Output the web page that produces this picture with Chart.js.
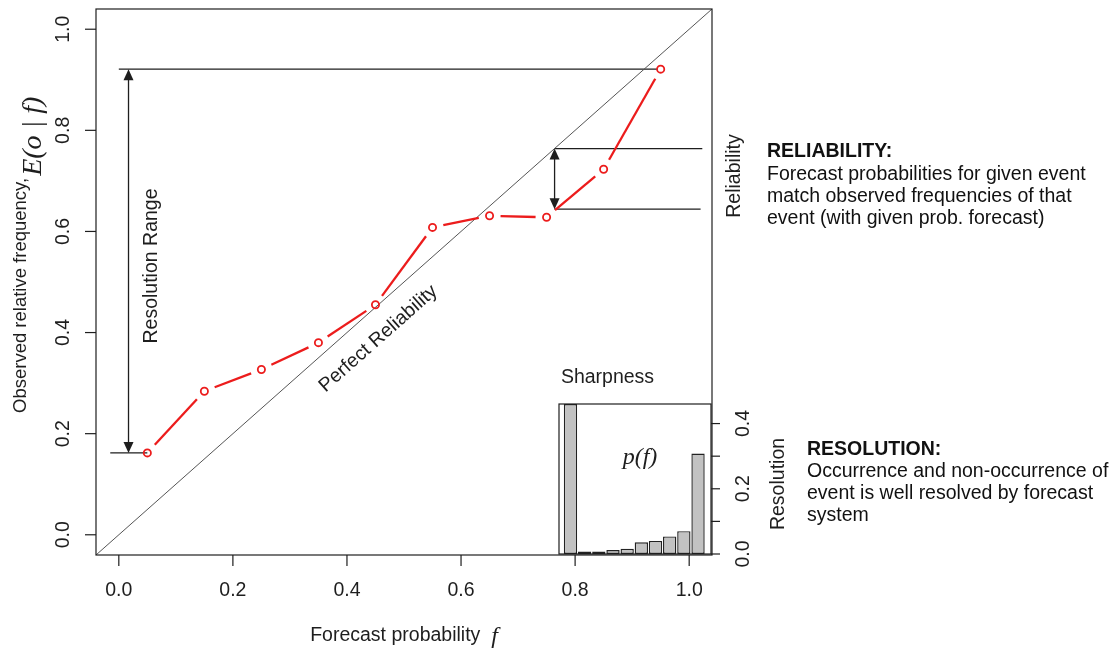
<!DOCTYPE html>
<html>
<head>
<meta charset="utf-8">
<title>Reliability diagram</title>
<script src="https://cdn.jsdelivr.net/npm/chart.js@4.4.1/dist/chart.umd.min.js"></script>
<style>
  body { margin: 0; background: #fff; }
  #wrap { position: relative; width: 1120px; height: 651px; overflow: hidden; }
  canvas { position: absolute; }
  #main { left: 0; top: 0; }
  #sharp { left: 520px; top: 360px; }
  .note { position: absolute; font-family: Arial, "Liberation Sans", sans-serif; font-size: 19.5px;
          line-height: 22px; color: #111; white-space: nowrap; }
  .note.head { font-weight: bold; }
</style>
</head>
<body>
<div id="wrap">
  <canvas id="main" width="1120" height="651"></canvas>
  <canvas id="sharp" width="260" height="215"></canvas>
  <div class="note head" style="left:767px;top:139px">RELIABILITY:</div>
  <div class="note" style="left:767px;top:162px">Forecast probabilities for given event<br>match observed frequencies of that<br>event (with given prob. forecast)</div>
  <div class="note head" style="left:807px;top:437px">RESOLUTION:</div>
  <div class="note" style="left:807px;top:459px">Occurrence and non-occurrence of<br>event is well resolved by forecast<br>system</div>
</div>
<script>
// forecast bin centres and observed relative frequency in each bin
var fcst    = [0.05, 0.15, 0.25, 0.35, 0.45, 0.55, 0.65, 0.75, 0.85, 0.95];
var obsFreq = [0.162, 0.284, 0.327, 0.380, 0.455, 0.608, 0.631, 0.628, 0.723, 0.921];

// share of forecasts falling in each bin (sharpness histogram)
var sharpFreq = [0.46, 0.008, 0.008, 0.012, 0.016, 0.036, 0.040, 0.054, 0.070, 0.308];

// reliability example: forecast value and the frequency observed for it
var relMark = [0.764, 0.644];

var xTicks = [0, 0.2, 0.4, 0.6, 0.8, 1.0];
var yTicks = [0, 0.2, 0.4, 0.6, 0.8, 1.0];
var sharpTicks  = [0, 0.1, 0.2, 0.3, 0.4];
var sharpLabels = [0, 0.2, 0.4];

var SANS = 'Arial, "Liberation Sans", sans-serif';
var SERIF = '"Liberation Serif", "DejaVu Serif", serif';
var INK = '#1e1e1e';
var RED = '#ec1c1c';
var GAP = 11; // px left blank around each point (R type="b")

function pts(xs, ys) {
  return xs.map(function(x, i) { return { x: x, y: ys[i] }; });
}

function rotText(ctx, txt, x, y, font, align, baseline) {
  ctx.save();
  ctx.translate(x, y);
  ctx.rotate(-Math.PI / 2);
  ctx.font = font;
  ctx.textAlign = align || 'center';
  ctx.textBaseline = baseline || 'middle';
  ctx.fillText(txt, 0, 0);
  ctx.restore();
}

function arrowHead(ctx, x, y, dir) {
  // dir = -1 points up, +1 points down; tip sits at (x, y)
  ctx.beginPath();
  ctx.moveTo(x, y);
  ctx.lineTo(x - 5, y - dir * 11);
  ctx.lineTo(x + 5, y - dir * 11);
  ctx.closePath();
  ctx.fill();
}

function vArrow(ctx, x, yTop, yBot) {
  ctx.beginPath();
  ctx.moveTo(x, yTop + 4);
  ctx.lineTo(x, yBot - 4);
  ctx.stroke();
  arrowHead(ctx, x, yTop, -1);
  arrowHead(ctx, x, yBot, 1);
}

function segLen(c) {
  return Math.hypot(c.p1.x - c.p0.x, c.p1.y - c.p0.y);
}

///////////////////////////////////////////////////////////////////////////
// axes, box and annotations of the main panel
///////////////////////////////////////////////////////////////////////////
var rFrame = {
  id: 'rFrame',
  afterDraw: function(chart) {
    var ctx = chart.ctx, a = chart.chartArea;
    var xs = chart.scales.x, ys = chart.scales.y;
    var font = '19.5px ' + SANS;
    ctx.save();
    ctx.strokeStyle = INK;
    ctx.fillStyle = INK;
    ctx.lineWidth = 1.2;
    ctx.strokeRect(a.left, a.top, a.right - a.left, a.bottom - a.top);

    ctx.font = font;
    ctx.textAlign = 'center';
    ctx.textBaseline = 'middle';
    xTicks.forEach(function(v) {
      var px = xs.getPixelForValue(v);
      ctx.beginPath(); ctx.moveTo(px, a.bottom); ctx.lineTo(px, a.bottom + 11); ctx.stroke();
      ctx.fillText(v.toFixed(1), px, a.bottom + 36);
    });
    yTicks.forEach(function(v) {
      var py = ys.getPixelForValue(v);
      ctx.beginPath(); ctx.moveTo(a.left, py); ctx.lineTo(a.left - 11, py); ctx.stroke();
      rotText(ctx, v.toFixed(1), a.left - 32, py, font);
    });

    // x title: text + italic f
    ctx.textBaseline = 'alphabetic';
    ctx.textAlign = 'left';
    ctx.font = font;
    var t1 = 'Forecast probability  ';
    var w1 = ctx.measureText(t1).width;
    ctx.font = 'italic 24px ' + SERIF;
    var w2 = ctx.measureText('f').width;
    var x0 = (a.left + a.right) / 2 - (w1 + w2) / 2;
    ctx.font = font;
    ctx.fillText(t1, x0, 641);
    ctx.font = 'italic 24px ' + SERIF;
    ctx.fillText('f', x0 + w1, 643);

    // y title
    var yFont = '18.5px ' + SANS;
    ctx.font = yFont;
    var t2 = 'Observed relative frequency,';
    var w3 = ctx.measureText(t2).width;
    rotText(ctx, t2, 26, 413, yFont, 'left', 'alphabetic');
    rotText(ctx, 'E(o | f)', 41, 413 - w3 - 2, 'italic 28px ' + SERIF, 'left', 'alphabetic');

    // resolution range arrow
    var top = Math.max.apply(null, obsFreq);
    var ax = xs.getPixelForValue(0.017);
    ctx.lineWidth = 1.3;
    vArrow(ctx, ax, ys.getPixelForValue(top), ys.getPixelForValue(obsFreq[0]));
    rotText(ctx, 'Resolution Range', 152, 266, font);

    // reliability arrow
    vArrow(ctx, xs.getPixelForValue(relMark[0]), ys.getPixelForValue(relMark[0]),
           ys.getPixelForValue(relMark[1]));
    rotText(ctx, 'Reliability', 735, 176, font);
    rotText(ctx, 'Resolution', 779, 484, font);

    // label along the diagonal
    var ang = Math.atan2(ys.getPixelForValue(0) - ys.getPixelForValue(1),
                         xs.getPixelForValue(1) - xs.getPixelForValue(0));
    ctx.save();
    ctx.translate(xs.getPixelForValue(0.455), ys.getPixelForValue(0.455) + 34);
    ctx.rotate(-ang);
    ctx.font = font;
    ctx.textAlign = 'center';
    ctx.textBaseline = 'middle';
    ctx.fillText('Perfect Reliability', 0, 0);
    ctx.restore();

    ctx.restore();
  }
};

///////////////////////////////////////////////////////////////////////////
// frame, right axis and titles of the sharpness inset
///////////////////////////////////////////////////////////////////////////
var sharpFrame = {
  id: 'sharpFrame',
  afterDraw: function(chart) {
    var ctx = chart.ctx, a = chart.chartArea, ys = chart.scales.y;
    var font = '19.5px ' + SANS;
    ctx.save();
    ctx.strokeStyle = INK;
    ctx.fillStyle = INK;
    ctx.lineWidth = 1.2;
    ctx.strokeRect(a.left, a.top, a.right - a.left, a.bottom - a.top);
    sharpTicks.forEach(function(v) {
      var py = ys.getPixelForValue(v);
      ctx.beginPath(); ctx.moveTo(a.right, py); ctx.lineTo(a.right + 9, py); ctx.stroke();
    });
    sharpLabels.forEach(function(v) {
      rotText(ctx, v.toFixed(1), a.right + 33, ys.getPixelForValue(v), font);
    });
    ctx.font = font;
    ctx.textAlign = 'center';
    ctx.textBaseline = 'middle';
    ctx.fillText('Sharpness', a.left + 48.5, a.top - 26);
    ctx.font = 'italic 24px ' + SERIF;
    ctx.fillText('p(f)', a.left + 81, a.top + 54);
    ctx.restore();
  }
};

var guide = { borderColor: INK, borderWidth: 1.3, pointRadius: 0, showLine: true };
var topObs = Math.max.apply(null, obsFreq);
var topIdx = obsFreq.indexOf(topObs);

new Chart(document.getElementById('main'), {
  type: 'scatter',
  data: {
    datasets: [
      {
        data: pts(fcst, obsFreq),
        showLine: true,
        borderColor: RED,
        borderWidth: 2.3,
        pointRadius: 3.6,
        pointBorderWidth: 1.8,
        pointBorderColor: RED,
        pointBackgroundColor: 'rgba(255,255,255,0)',
        segment: {
          borderDash: function(c) { var L = segLen(c); return [Math.max(L - 2 * GAP, 0), 2 * GAP + 2000]; },
          borderDashOffset: function(c) { return segLen(c) + 2000 - GAP; }
        }
      },
      { data: pts([-0.04, 1.04], [-0.04, 1.04]), showLine: true, borderColor: '#555', borderWidth: 1, pointRadius: 0 },
      Object.assign({ data: pts([0, fcst[topIdx] - 0.006], [topObs, topObs]) }, guide),
      Object.assign({ data: pts([-0.015, fcst[0]], [obsFreq[0], obsFreq[0]]) }, guide),
      Object.assign({ data: pts([relMark[0], 1.023], [relMark[0], relMark[0]]) }, guide),
      Object.assign({ data: pts([relMark[0], 1.02], [relMark[1], relMark[1]]) }, guide)
    ]
  },
  options: {
    responsive: false,
    animation: false,
    events: [],
    layout: { padding: { left: 96, right: 408, top: 9, bottom: 96 } },
    plugins: { legend: { display: false }, tooltip: { enabled: false } },
    scales: {
      x: { type: 'linear', min: -0.04, max: 1.04, display: false },
      y: { type: 'linear', min: -0.04, max: 1.04, display: false }
    }
  },
  plugins: [rFrame]
});

new Chart(document.getElementById('sharp'), {
  type: 'bar',
  data: {
    datasets: [{
      data: pts(fcst, sharpFreq),
      backgroundColor: '#c2c2c2',
      borderColor: '#222',
      borderWidth: 1.4,
      borderSkipped: false,
      barPercentage: 0.94,
      categoryPercentage: 1
    }]
  },
  options: {
    responsive: false,
    animation: false,
    events: [],
    layout: { padding: { left: 39, right: 69, top: 44, bottom: 21 } },
    plugins: { legend: { display: false }, tooltip: { enabled: false } },
    scales: {
      x: { type: 'linear', offset: false, min: -0.031, max: 1.0415, display: false },
      y: { type: 'linear', min: 0, max: Math.max.apply(null, sharpFreq), display: false }
    }
  },
  plugins: [sharpFrame]
});
</script>
</body>
</html>
